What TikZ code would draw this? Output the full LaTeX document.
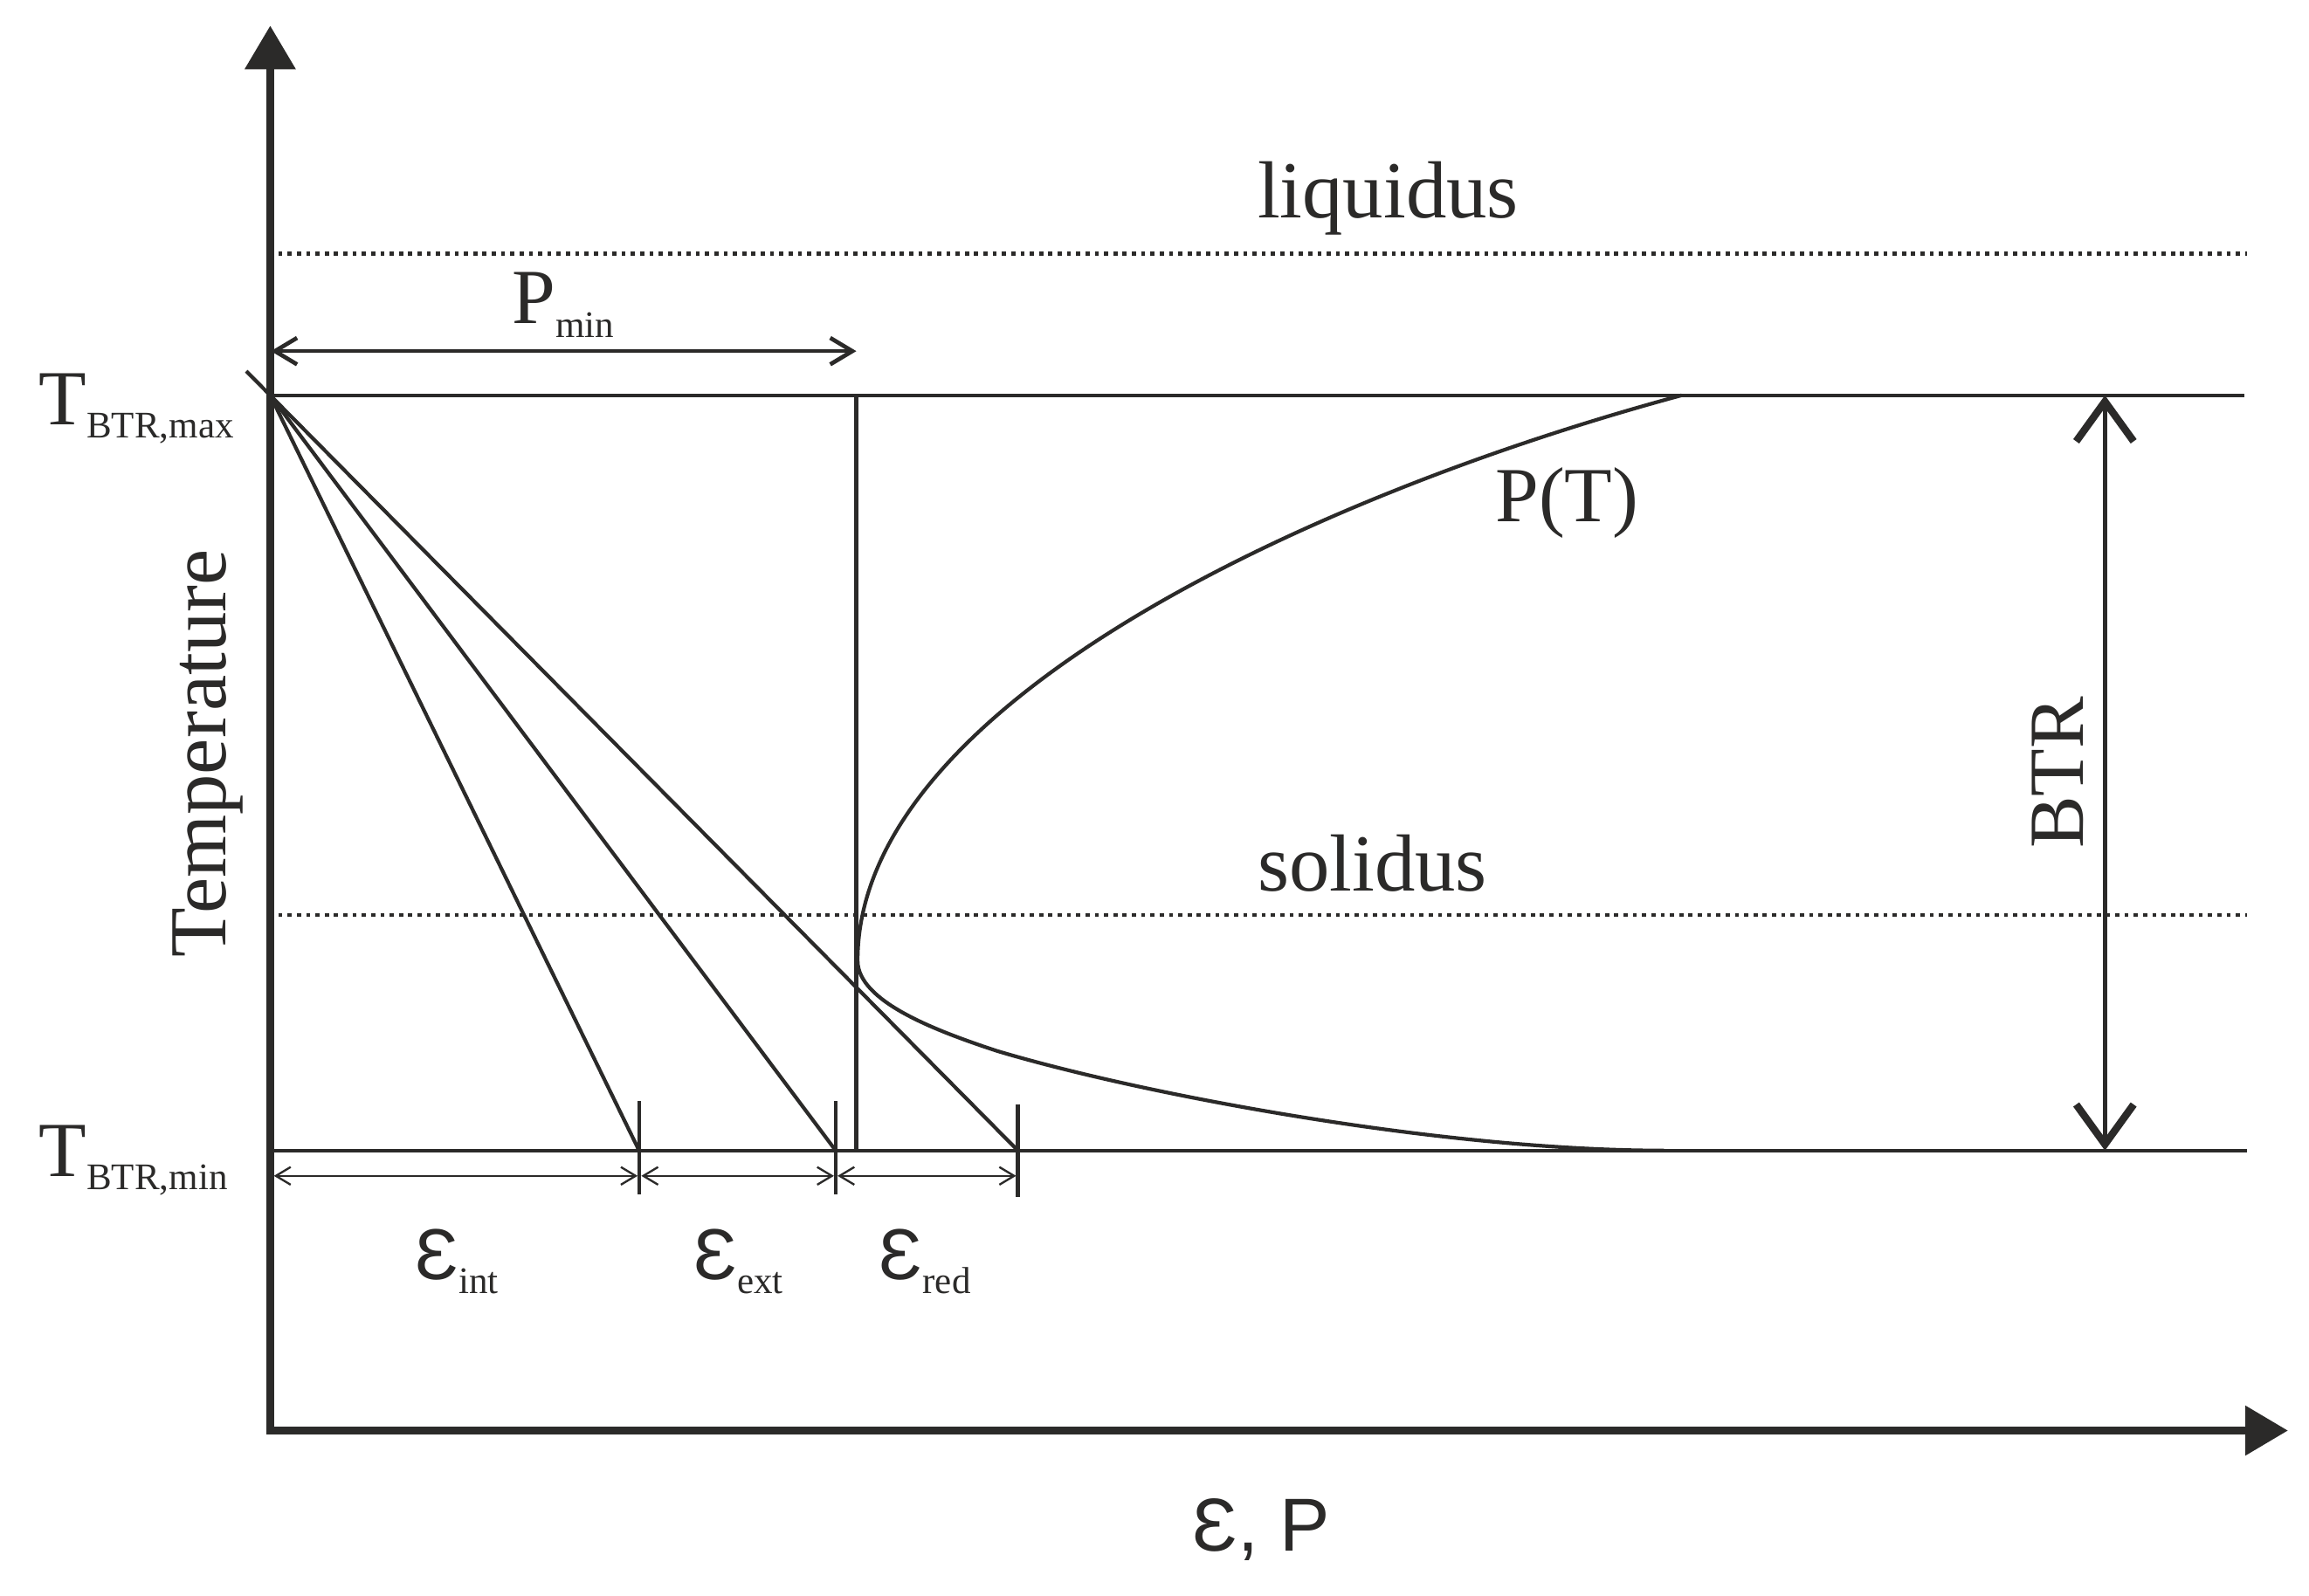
\documentclass[tikz,border=0pt]{standalone}
\usepackage{fontspec}
\setmainfont{Liberation Serif}
\newfontfamily\sansf{Liberation Sans}
\usetikzlibrary{arrows.meta,calc}
\definecolor{ink}{RGB}{43,42,41}
\newcommand\mainsz{\fontsize{53}{60}\selectfont}
\newcommand\wordsz{\fontsize{55}{62}\selectfont}
\newcommand\subsz{\fontsize{25.5}{30}\selectfont}
\newcommand\epssz{\fontsize{49}{56}\selectfont}
\begin{document}
\begin{tikzpicture}[x=1pt,y=-1pt,
  every node/.style={inner sep=0pt,outer sep=0pt,text=ink},
  axisline/.style={draw=ink,line width=5.5pt,{Triangle[length=29.6pt,width=33.3pt]}-{Triangle[length=29pt,width=32.6pt]}},
  thinline/.style={draw=ink,line width=2.5pt},
  dotline/.style={draw=ink,line width=2.8pt,dash pattern=on 2.8pt off 3.5pt},
  dimarrow/.style={draw=ink,line width=1.2pt,{Straight Barb[length=10pt,width=12pt,line width=1.4pt]}-{Straight Barb[length=10pt,width=12pt,line width=1.4pt]}},
  pminarrow/.style={draw=ink,line width=2.6pt,{Straight Barb[length=15pt,width=18pt,line width=2.8pt]}-{Straight Barb[length=15pt,width=18pt,line width=2.8pt]}},
  btrarrow/.style={draw=ink,line width=2.8pt,{Straight Barb[length=27pt,width=39pt,line width=5pt]}-{Straight Barb[length=27pt,width=39pt,line width=5pt]}},
  txt/.style={anchor=base west}]
\useasboundingbox (0,0) rectangle (1568,1084);
\fill[white] (0,0) rectangle (1568,1084);

% coordinates
\coordinate (ytip) at (183.5,17.4);
\coordinate (corner) at (183.5,971.7);
\coordinate (xtip) at (1553.7,971.7);
\coordinate (O) at (183.5,268.5);
\coordinate (tmaxR) at (1524,268.5);
\coordinate (tminL) at (183.5,781.5);
\coordinate (tminR) at (1526,781.5);
\coordinate (liqL) at (189,172.4);
\coordinate (liqR) at (1526,172.4);
\coordinate (solL) at (189,621.5);
\coordinate (solR) at (1526,621.5);
\coordinate (vtop) at (581.5,268.5);
\coordinate (vbot) at (581.5,781.5);
\coordinate (e1) at (434,781.5);
\coordinate (e2) at (567.5,781.5);
\coordinate (e3) at (691.2,781.5);
\coordinate (k1a) at (434,748);   \coordinate (k1b) at (434,811);
\coordinate (k2a) at (567.5,748); \coordinate (k2b) at (567.5,811);
\coordinate (k3a) at (691.2,750); \coordinate (k3b) at (691.2,813);
\coordinate (d0) at (186,798.7);
\coordinate (d1l) at (433,798.7);  \coordinate (d1r) at (435.5,798.7);
\coordinate (d2l) at (566.3,798.7); \coordinate (d2r) at (568.8,798.7);
\coordinate (d3) at (690,798.7);
\coordinate (pa) at (184,238.5);
\coordinate (pb) at (581.5,238.5);
\coordinate (ba) at (1429.4,268.5);
\coordinate (bb) at (1429.4,781.5);
% P(T) curve points
\coordinate (c0) at (1142,268.5);
\coordinate (cv) at (582.4,652.5);
\coordinate (cq) at (676.9,713.8);
\coordinate (ce) at (1130,781.5);

% axes
\draw[axisline] (ytip) -- (corner) -- (xtip);

% horizontal lines
\draw[dotline] (liqL) -- (liqR);
\draw[dotline] (solL) -- (solR);
\draw[thinline] (O) -- (tmaxR);
\draw[thinline] (tminL) -- (tminR);

% vertical P_min line
\draw[thinline] (vtop) -- (vbot);

% strain lines
\draw[thinline] (O) -- (e1);
\draw[thinline] (O) -- (e2);
\draw[thinline] ($(O)!-0.032!(e3)$) -- (e3);

% ticks
\draw[thinline] (k1a) -- (k1b);
\draw[thinline] (k2a) -- (k2b);
\draw[thinline] (k3a) -- (k3b);

% dimension arrows
\draw[dimarrow] (d0) -- (d1l);
\draw[dimarrow] (d1r) -- (d2l);
\draw[dimarrow] (d2r) -- (d3);
\draw[pminarrow] (pa) -- (pb);
\draw[btrarrow] (ba) -- (bb);

% P(T) curve
\draw[thinline] (c0) .. controls (892,336) and (582.4,478) .. (cv)
  .. controls (582.4,680.5) and (636.9,700.6) .. (cq)
  .. controls (776.9,743.8) and (980,781.5) .. (ce);

% labels
\node[txt] (liq) at (854,148) {\wordsz liquidus};
\node[txt] (sol) at (854,605) {\wordsz solidus};
\node[txt] (pt) at (1015.5,354.6) {\mainsz P(T)};
\node[txt] (pmin) at (348,219.5) {{\mainsz P}\raisebox{-9.8pt}{\subsz min}};
\node[txt] (tmax) at (26.5,288.7) {{\mainsz T}\raisebox{-8.5pt}{\subsz BTR,max}};
\node[txt] (tmin) at (26.5,799.4) {{\mainsz T}\raisebox{-8.6pt}{\subsz BTR,min}};
\node[rotate=90,anchor=base] (temp) at (153.2,512) {\wordsz Temperature};
\node[rotate=90,anchor=base] (btr) at (1414.6,524.7) {\mainsz BTR};
\node[txt] (eint) at (282,869) {{\sansf\epssz Ɛ}\raisebox{-9.8pt}{\subsz int}};
\node[txt] (eext) at (471,869) {{\sansf\epssz Ɛ}\raisebox{-9.8pt}{\subsz ext}};
\node[txt] (ered) at (597,869) {{\sansf\epssz Ɛ}\raisebox{-9.8pt}{\subsz red}};
\node[txt] (xlab) at (810,1053.8) {\sansf\fontsize{51}{60}\selectfont Ɛ, P};
\end{tikzpicture}
\end{document}
